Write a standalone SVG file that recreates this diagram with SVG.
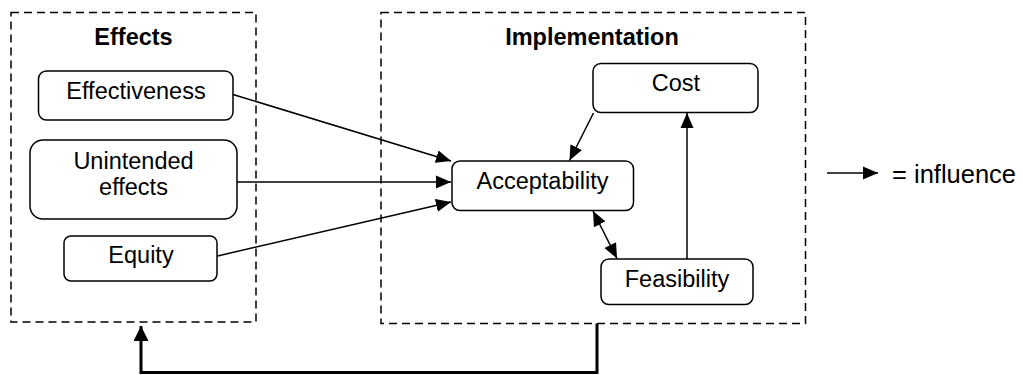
<svg xmlns="http://www.w3.org/2000/svg" width="1023" height="375" viewBox="0 0 1023 375">
  <defs>
    <marker id="head" markerUnits="userSpaceOnUse" markerWidth="16" markerHeight="14" refX="15" refY="7" orient="auto-start-reverse">
      <path d="M0,0.5 L15,7 L0,13.5 Z" fill="#000"/>
    </marker>
    <marker id="headBig" markerUnits="userSpaceOnUse" markerWidth="16" markerHeight="16" refX="15" refY="7.5" orient="auto">
      <path d="M0,0 L15,7.5 L0,15 Z" fill="#000"/>
    </marker>
    <style>
      .group { fill: none; stroke: #000; stroke-width: 1.5; stroke-dasharray: 8 5; }
      .node { fill: #fff; stroke: #000; stroke-width: 1.5; }
      .label { font-family: "Liberation Sans", Arial, sans-serif; font-size: 23.5px; fill: #000; text-anchor: middle; }
      .title { font-family: "Liberation Sans", Arial, sans-serif; font-size: 23.5px; font-weight: bold; fill: #000; text-anchor: middle; }
      .edge { fill: none; stroke: #000; stroke-width: 1.5; }
      .feedback { fill: none; stroke: #000; stroke-width: 3; }
    </style>
  </defs>

  <!-- grouping frames -->
  <g id="effects-group">
    <rect class="group" x="11" y="12.5" width="245" height="309.5"/>
    <text class="title" x="133.5" y="45">Effects</text>
  </g>
  <g id="implementation-group">
    <rect class="group" x="381" y="12.5" width="424.5" height="311"/>
    <text class="title" x="592" y="45">Implementation</text>
  </g>

  <!-- nodes -->
  <g id="effectiveness">
    <rect class="node" x="38.5" y="71" width="194.5" height="49" rx="8"/>
    <text class="label" x="136" y="98.5">Effectiveness</text>
  </g>
  <g id="unintended-effects">
    <rect class="node" x="30" y="140" width="207" height="79" rx="13"/>
    <text class="label" x="133.5" y="168.5">Unintended</text>
    <text class="label" x="133.5" y="194.5">effects</text>
  </g>
  <g id="equity">
    <rect class="node" x="64" y="236" width="153" height="45" rx="7"/>
    <text class="label" x="141" y="263">Equity</text>
  </g>
  <g id="cost">
    <rect class="node" x="593" y="63.5" width="165" height="49" rx="8"/>
    <text class="label" x="676" y="91">Cost</text>
  </g>
  <g id="acceptability">
    <rect class="node" x="452" y="161" width="181.5" height="49.5" rx="8"/>
    <text class="label" x="542.5" y="189">Acceptability</text>
  </g>
  <g id="feasibility">
    <rect class="node" x="601" y="259" width="152" height="45.5" rx="8"/>
    <text class="label" x="677" y="286.5">Feasibility</text>
  </g>

  <!-- connectors -->
  <g id="connectors">
    <line class="edge" x1="233" y1="94.5" x2="451" y2="161" marker-end="url(#head)"/>
    <line class="edge" x1="237" y1="182" x2="451" y2="182" marker-end="url(#head)"/>
    <line class="edge" x1="217.5" y1="256" x2="451" y2="202" marker-end="url(#head)"/>
    <line class="edge" x1="593.5" y1="113" x2="569.5" y2="160.5" marker-end="url(#head)"/>
    <line class="edge" x1="687" y1="259" x2="687" y2="113" marker-end="url(#head)"/>
    <line class="edge" x1="593" y1="211" x2="617" y2="258.5" marker-start="url(#head)" marker-end="url(#head)"/>
    <polyline class="feedback" points="597,323.5 597,372.5 141,372.5 141,326" marker-end="url(#headBig)"/>
  </g>

  <!-- legend -->
  <g id="legend">
    <line class="edge" x1="827" y1="173" x2="878" y2="173" marker-end="url(#head)"/>
    <text class="label" x="892" y="182.5" style="text-anchor: start; font-size: 25.5px;">= influence</text>
  </g>
</svg>
